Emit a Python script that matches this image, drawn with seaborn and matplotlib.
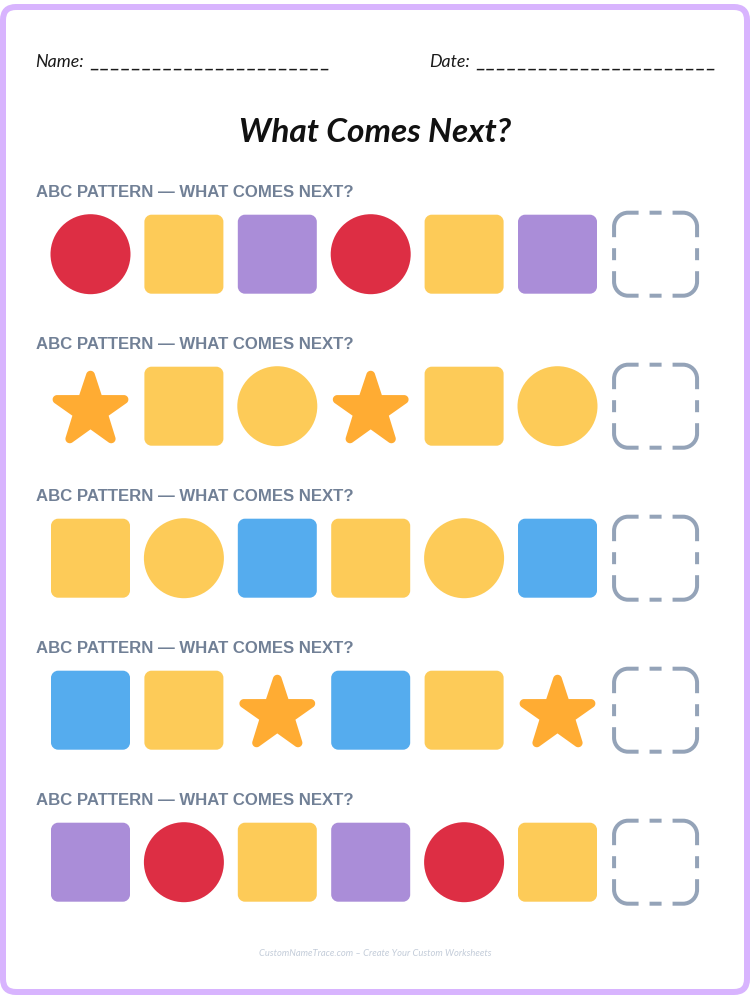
import re
import pandas as pd
import seaborn as sns
import matplotlib.pyplot as plt
from matplotlib.path import Path
from matplotlib.patches import FancyBboxPatch
from matplotlib.transforms import IdentityTransform

# worksheet content
row_shapes = [
  ['circle', 'square', 'square'],
  ['star', 'square', 'circle'],
  ['square', 'circle', 'square'],
  ['square', 'square', 'star'],
  ['square', 'circle', 'square'],
]
row_colors = [
  ['red', 'yellow', 'purple'],
  ['orange', 'yellow', 'yellow'],
  ['yellow', 'yellow', 'blue'],
  ['blue', 'yellow', 'orange'],
  ['purple', 'red', 'yellow'],
]
palette = dict(red='#DD2E44', yellow='#FDCB58', purple='#AA8DD8', blue='#55ACEE', orange='#FFAC33')
repeats = 2
heading = 'ABC PATTERN \u2014 WHAT COMES NEXT?'
title = 'What Comes Next?'
footer = 'CustomNameTrace.com \u2013 Create Your Custom Worksheets'
blank = '\u200a'.join('_' * 23)

# pixel layout of the page
W, H = 750, 1000
COL_X, COL_STEP = 90.5, 93.4
ROW_Y, ROW_STEP = 254.2, 152
SLOT_COL = 6.05
PX = 0.72  # pt per pixel at dpi 100

STAR = ('M27.287 34.627c-.404 0-.806-.124-1.152-.371L18 28.422l-8.135 5.834c-.693.496-1.623.496-2.312-.008'
        '-.689-.499-.979-1.385-.721-2.194l3.034-9.792-8.062-5.681c-.685-.505-.97-1.393-.708-2.203'
        '.264-.808 1.016-1.357 1.866-1.363L12.947 13l3.179-9.549c.268-.809 1.023-1.353 1.874-1.353'
        '.851 0 1.606.545 1.875 1.353L23 13l10.036.015c.853.006 1.606.556 1.867 1.363'
        '.263.81-.022 1.698-.708 2.203l-8.062 5.681 3.034 9.792c.26.809-.033 1.695-.72 2.194'
        '-.347.254-.753.379-1.16.379z')

def star_path():
  tokens = re.findall(r'[MLlcz]|-?\d*\.?\d+', STAR)
  verts, codes = [], []
  cx, cy = 0.0, 0.0
  cmd = None
  i = 0
  while i < len(tokens):
    if tokens[i] in 'MLlcz':
      cmd = tokens[i]
      i += 1
      if cmd == 'z':
        verts.append(verts[0])
        codes.append(Path.CLOSEPOLY)
      continue
    if cmd == 'c':
      v = [float(t) for t in tokens[i:i+6]]
      for k in range(0, 6, 2):
        verts.append((cx + v[k], cy + v[k+1]))
        codes.append(Path.CURVE4)
      cx, cy = verts[-1]
      i += 6
    else:
      a, b = float(tokens[i]), float(tokens[i+1])
      if cmd == 'l':
        cx, cy = cx + a, cy + b
      else:
        cx, cy = a, b
      verts.append((cx, cy))
      codes.append(Path.MOVETO if cmd == 'M' else Path.LINETO)
      i += 2
  verts = [(x - 18, 18 - y) for x, y in verts]
  return Path(verts, codes)

def round_square(half, r, start_x=None):
  # clockwise from the top edge, start_x lets the dash pattern begin on the top dash
  k = 0.5523 * r
  s = half - r
  verts = [(start_x if start_x is not None else 0, half), (s, half),
           (s + k, half), (half, s + k), (half, s), (half, -s),
           (half, -s - k), (s + k, -half), (s, -half), (-s, -half),
           (-s - k, -half), (-half, -s - k), (-half, -s), (-half, s),
           (-half, s + k), (-s - k, half), (-s, half),
           (start_x if start_x is not None else 0, half)]
  c = Path.CURVE4
  l = Path.LINETO
  codes = [Path.MOVETO, l, c, c, c, l, c, c, c, l, c, c, c, l, c, c, c, l]
  return Path(verts, codes)

def page_text(x, y, s, **kws):
  return fig.text(x / W, 1 - y / H, s, va='baseline', **kws)

rows = list()
for r, (shapes, colors) in enumerate(zip(row_shapes, row_colors)):
  for c in range(len(shapes) * repeats):
    rows.append((r, c, shapes[c % 3], colors[c % 3]))
marks = pd.DataFrame(rows, columns=['row', 'col', 'shape', 'color'])
slots = pd.DataFrame(dict(row=range(len(row_shapes)), col=[SLOT_COL] * len(row_shapes)))

sns.set_theme(style='white')
plt.rcParams['lines.scale_dashes'] = False

fig = plt.figure(figsize=(W / 100, H / 100), dpi=100)
ax = fig.add_axes([0, 0, 1, 1])

sns.scatterplot(data=marks, x='col', y='row', hue='color', palette=palette,
                style='shape', markers=dict(circle='o', square=round_square(1, 0.18), star=star_path()),
                size='shape', sizes=dict(circle=(80 * PX) ** 2, square=(79 * PX) ** 2, star=(76.5 * PX) ** 2),
                linewidth=0, legend=False, ax=ax)

dash = [12 * PX, 11 * PX, 43 * PX, 11 * PX]
sns.scatterplot(data=slots, x='col', y='row', marker=round_square(1, 14 / 41.5, start_x=-6 / 41.5),
                s=(83 * PX) ** 2, facecolor='none', edgecolor='#94A3B8', linewidth=4 * PX,
                linestyle=(0, dash), legend=False, ax=ax)
ax.collections[-1].set_facecolor('none')

ax.set_xlim(-COL_X / COL_STEP, (W - COL_X) / COL_STEP)
ax.set_ylim((H - ROW_Y) / ROW_STEP, -ROW_Y / ROW_STEP)
ax.axis('off')

# page border
fig.add_artist(FancyBboxPatch((3, 8), 744, 985, boxstyle='round,pad=0,rounding_size=13',
                              facecolor='none', edgecolor='#D8B4FE', linewidth=6 * PX,
                              transform=IdentityTransform()))

hand = dict(family=['Lato', 'DejaVu Sans'], style='italic', color='#1a1a1a')
page_text(35.5, 67, 'Name:', fontsize=12.8, **hand)
page_text(429.5, 67, 'Date:', fontsize=12.8, **hand)
page_text(90.5, 67, blank, fontsize=15.05, **hand)
page_text(476.5, 67, blank, fontsize=15.05, **hand)
page_text(375, 142, title, fontsize=24, ha='center', family='Lato', style='italic', weight='bold', color='#111111')
for r in range(len(row_shapes)):
  page_text(36, 197 + r * ROW_STEP, heading, fontsize=12.05, family='Liberation Sans', weight='bold', color='#718096')
page_text(375, 956, footer, fontsize=6.75, ha='center', family='Lato', style='italic', color='#C3CCD9')

plt.savefig('out.png', dpi=100)
